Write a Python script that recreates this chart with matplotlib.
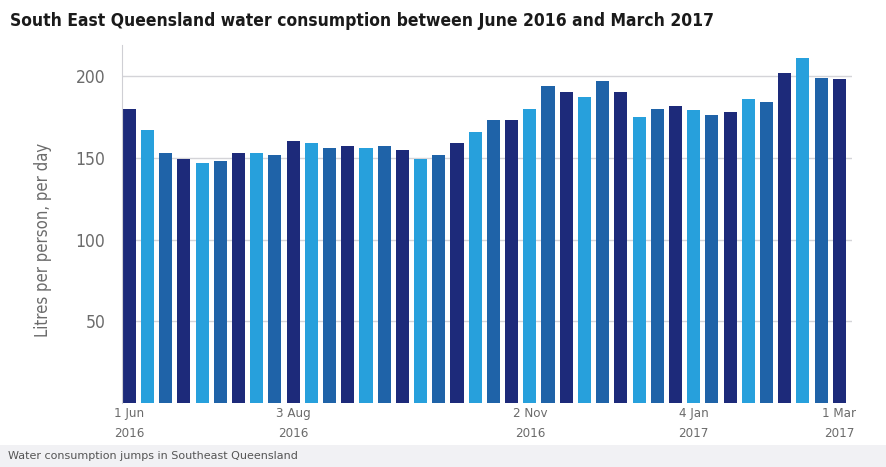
import matplotlib.pyplot as plt
from matplotlib.patches import Rectangle

# weekly consumption, litres per person per day (1 Jun 2016 .. 1 Mar 2017)
weeks = list(range(40))
litres = [180, 167, 153, 149, 147, 148, 153, 153, 152, 160,
          159, 156, 157, 156, 157, 155, 149, 152, 159, 166,
          173, 173, 180, 194, 190, 187, 197, 190, 175, 180,
          182, 179, 176, 178, 186, 184, 202, 211, 199, 198]
tick_weeks = [0, 9, 22, 31, 39]
tick_labels = ['1 Jun\n2016', '3 Aug\n2016', '2 Nov\n2016', '4 Jan\n2017', '1 Mar\n2017']
palette = ['#1d2a7a', '#27a0dc', '#1f63a8']

plt.rcParams['font.family'] = ['DejaVu Sans']
plt.rcParams['font.stretch'] = 'condensed'

fig = plt.figure(figsize=(8.86, 4.67), dpi=100)
ax = fig.add_axes([0.1377, 0.137, 0.824, 0.7666])

colors = [palette[i % 3] for i in weeks]
ax.bar(weeks, litres, width=0.72, color=colors, zorder=2)

ax.set_xlim(-0.4, 39.7)
ax.set_ylim(0, 219)
ax.set_yticks([50, 100, 150, 200])
ax.yaxis.grid(True, color='#d4d4d8', linewidth=1.0, zorder=0)
ax.tick_params(axis='y', length=0, pad=12, labelsize=12.5, labelcolor='#6b6b6b')
ax.set_xticks(tick_weeks)
ax.set_xticklabels(tick_labels, fontsize=9.5, color='#6b6b6b', linespacing=1.7)
ax.tick_params(axis='x', length=0, pad=3)

for side in ['top', 'right', 'bottom']:
    ax.spines[side].set_visible(False)
ax.spines['left'].set_color('#cfcfd4')

ax.set_ylabel('Litres per person, per day', fontsize=12, color='#6b6b6b')
ax.yaxis.set_label_coords(-0.096, 0.455)

fig.text(0.011, 0.955, 'South East Queensland water consumption between June 2016 and March 2017',
         fontsize=12.5, fontweight='bold', color='#1a1a1a', va='center')

# caption strip along the bottom
fig.patches.append(Rectangle((0, 0), 1, 0.047, transform=fig.transFigure,
                             facecolor='#f1f1f4', edgecolor='none', zorder=0))
fig.text(0.009, 0.023, 'Water consumption jumps in Southeast Queensland',
         fontsize=8, fontstretch='normal', color='#555555', va='center')

fig.savefig('out.png', dpi=100)
